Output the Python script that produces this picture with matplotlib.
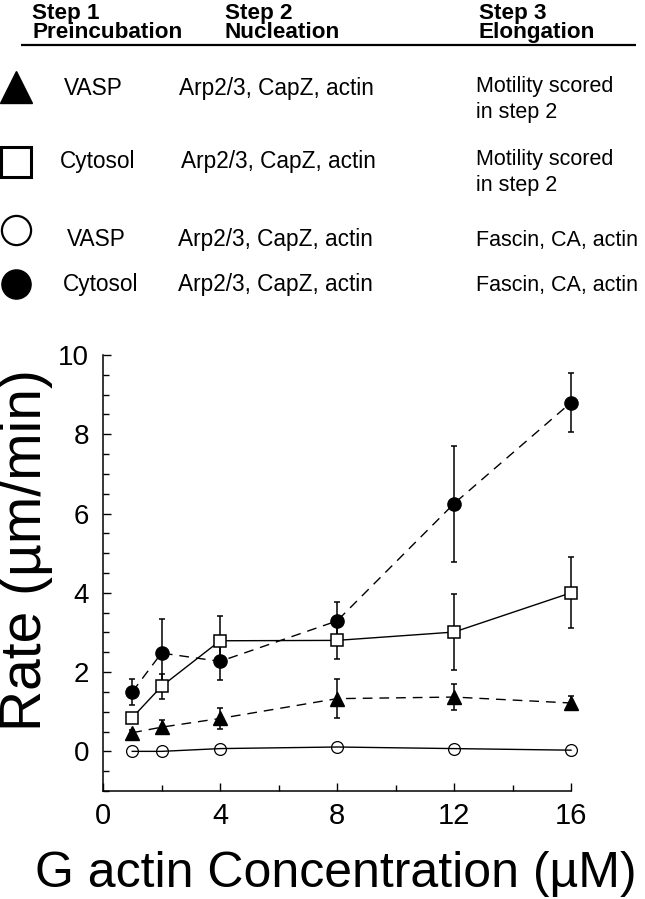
import matplotlib
matplotlib.use("Agg")
import matplotlib.pyplot as plt
from matplotlib.ticker import MultipleLocator

plt.rcParams['font.family'] = ['Liberation Sans', 'DejaVu Sans']

# ---- data ----
conc = [1, 2, 4, 8, 12, 16]
vasp_motility = [0.47, 0.61, 0.83, 1.33, 1.37, 1.22]
vasp_motility_err = [0.08, 0.17, 0.26, 0.50, 0.32, 0.18]
cytosol_motility = [0.85, 1.64, 2.79, 2.80, 3.01, 4.00]
cytosol_motility_err = [0.10, 0.31, 0.62, 0.48, 0.95, 0.90]
vasp_fascin = [0.0, 0.0, 0.07, 0.11, 0.07, 0.03]
cytosol_fascin = [1.50, 2.48, 2.27, 3.29, 6.25, 8.80]
cytosol_fascin_err = [0.33, 0.86, 0.46, 0.48, 1.46, 0.75]

x_ticks = [0, 4, 8, 12, 16]
y_ticks = [0, 2, 4, 6, 8, 10]

header_cols = ["Step 1\nPreincubation", "Step 2\nNucleation", "Step 3\nElongation"]
row_step1 = ["VASP", "Cytosol", "VASP", "Cytosol"]
row_step2 = ["Arp2/3, CapZ, actin"] * 4
row_step3 = ["Motility scored\nin step 2", "Motility scored\nin step 2",
             "Fascin, CA, actin", "Fascin, CA, actin"]

W, H = 645, 899
fig = plt.figure(figsize=(W / 100, H / 100), dpi=100)

# ---- header table (pixel coordinates overlay) ----
ov = fig.add_axes([0, 0, 1, 1])
ov.set_xlim(0, W)
ov.set_ylim(H, 0)
ov.axis('off')
ov.patch.set_visible(False)

head_x = [32, 225, 479]
for hx, txt in zip(head_x, header_cols):
    ov.text(hx, 38, txt, fontsize=16.2, fontweight='bold', ha='left', va='baseline',
            linespacing=0.88)
ov.plot([21, 636], [45, 45], color='black', lw=1.6, solid_capstyle='butt')

row_marker_y = [87, 162, 230, 284]
row_base_y = [95, 168, 246, 291]
s1_x = [64, 60, 67, 63]
s2_x = [179, 181, 178, 178]
mk_styles = [
    dict(marker='^', markersize=23, color='black'),
    dict(marker='s', markersize=21, markerfacecolor='white', markeredgecolor='black', markeredgewidth=2.2),
    dict(marker='o', markersize=21, markerfacecolor='white', markeredgecolor='black', markeredgewidth=1.6),
    dict(marker='o', markersize=21, color='black'),
]
fs_row = 16.3
fs_s3 = 15.5
for i in range(4):
    ov.plot([16], [row_marker_y[i]], linestyle='none', **mk_styles[i])
    ov.text(s1_x[i], row_base_y[i], row_step1[i], fontsize=fs_row, ha='left', va='baseline')
    ov.text(s2_x[i], row_base_y[i], row_step2[i], fontsize=fs_row, ha='left', va='baseline')
    lines = row_step3[i].split("\n")
    for j, ln in enumerate(lines):
        ov.text(476, row_base_y[i] - 3 + j * 26 if len(lines) > 1 else row_base_y[i],
                ln, fontsize=fs_s3, ha='left', va='baseline')

# ---- main plot ----
ax = fig.add_axes([103 / W, 108 / H, 468 / W, 436 / H])
dash = (0, (7, 5))
lw = 1.0
ekw = dict(ecolor='black', elinewidth=1.1, capsize=2.2, capthick=1.1)

containers = []
containers.append(ax.errorbar(conc, cytosol_fascin, yerr=cytosol_fascin_err, color='black', lw=lw,
            linestyle=dash, marker='o', markersize=9.5, markerfacecolor='black',
            markeredgecolor='black', zorder=3, **ekw))
containers.append(ax.errorbar(conc, vasp_motility, yerr=vasp_motility_err, color='black', lw=lw,
            linestyle=dash, marker='^', markersize=9.5, markerfacecolor='black',
            markeredgecolor='black', zorder=3, **ekw))
containers.append(ax.errorbar(conc, cytosol_motility, yerr=cytosol_motility_err, color='black', lw=lw,
            linestyle='-', marker='s', markersize=9, markerfacecolor='white',
            markeredgecolor='black', markeredgewidth=1.1, zorder=4, **ekw))
ax.plot(conc, vasp_fascin, color='black', lw=lw, linestyle='-', marker='o',
        markersize=8.5, markerfacecolor='none', markeredgecolor='black',
        markeredgewidth=0.9, zorder=4, clip_on=False)
for c in containers:
    for art in c.get_children():
        art.set_clip_on(False)

ax.set_xlim(0, 16)
ax.set_ylim(-1, 10)
ax.set_xticks(x_ticks)
ax.set_yticks(y_ticks)
ax.xaxis.set_minor_locator(MultipleLocator(2))
ax.yaxis.set_minor_locator(MultipleLocator(0.5))
for s in ['top', 'right']:
    ax.spines[s].set_visible(False)
for s in ['left', 'bottom']:
    ax.spines[s].set_linewidth(1.1)
ax.tick_params(axis='both', which='major', direction='in', length=6, width=1.0)
ax.tick_params(axis='both', which='minor', direction='in', length=4, width=1.0)
ax.tick_params(axis='y', which='major', labelsize=20, pad=10)
ax.tick_params(axis='x', which='major', labelsize=21, pad=8)
ax.patch.set_visible(False)

fig.text(35 / W, 1 - 887 / H, "G actin Concentration (µM)", fontsize=36.0,
         ha='left', va='baseline')
fig.text(26 / W, 1 - 550 / H, "Rate (µm/min)", fontsize=41, rotation=90,
         ha='center', va='center')

fig.savefig("out.png", dpi=100)
